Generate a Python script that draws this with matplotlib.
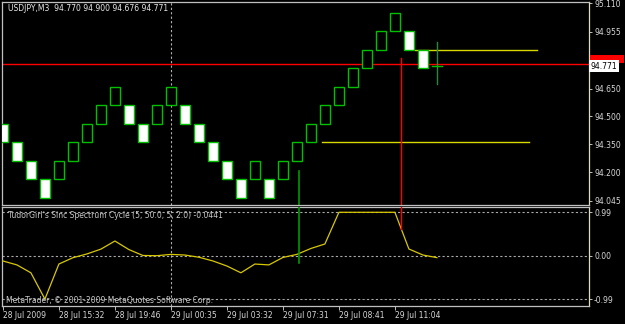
import matplotlib
matplotlib.use('Agg')
import matplotlib.pyplot as plt
from matplotlib.patches import Rectangle

# renko bricks: bottom price of each brick and direction (1 = up / hollow, 0 = down / white)
brick_low = [94.36, 94.26, 94.16, 94.06, 94.16, 94.26, 94.36, 94.46, 94.56, 94.46,
             94.36, 94.46, 94.56, 94.46, 94.36, 94.26, 94.16, 94.06, 94.16, 94.06,
             94.16, 94.26, 94.36, 94.46, 94.56, 94.66, 94.76, 94.86, 94.96, 94.86, 94.76]
brick_up = [0, 0, 0, 0, 1, 1, 1, 1, 1, 0,
            0, 1, 1, 0, 0, 0, 0, 0, 1, 0,
            1, 1, 1, 1, 1, 1, 1, 1, 1, 0, 0]
BRICK = 0.10

# last (forming) bar
last_ohlc = (94.770, 94.900, 94.676, 94.771)

# indicator values, one per bar
sinc = [-0.12, -0.21, -0.39, -0.99, -0.19, -0.046, 0.04, 0.15, 0.335, 0.14,
        0.005, 0.0, 0.03, 0.015, -0.035, -0.12, -0.235, -0.39, -0.19, -0.21,
        -0.04, 0.03, 0.165, 0.267, 0.99, 0.99, 0.99, 0.99, 0.99, 0.153, 0.016, -0.0441]

price_ticks = [94.045, 94.200, 94.350, 94.500, 94.650, 94.955, 95.110]
ind_ticks = [0.99, 0.0, -0.99]
ind_tick_labels = ['0.99', '0.00', '-0.99']

time_pos = [0, 4, 8, 12, 16, 20, 24, 28]
time_labels = ['28 Jul 2009', '28 Jul 15:32', '28 Jul 19:46', '29 Jul 00:35',
               '29 Jul 03:32', '29 Jul 07:31', '29 Jul 08:41', '29 Jul 11:04']
day_sep = 12

# drawn objects
red_hline = 94.78
yellow_lines = [(29.44, 38.13, 94.86), (22.79, 37.58, 94.36)]
red_vline = (28.46, 94.815, 0.61)
green_vline = (21.13, 94.207, -0.167)

W, H = 625, 324
BG = '#000000'
FRAME = '#c0c0c0'
TXT = '#d8d8d8'
GREEN = '#00c000'
FONT = 'DejaVu Sans'
FS = 5.5

fig = plt.figure(figsize=(W / 100, H / 100), dpi=100, facecolor=BG)


def px_axes(x0, y0, x1, y1):
    return fig.add_axes([x0 / W, 1 - y1 / H, (x1 - x0) / W, (y1 - y0) / H])


def style(ax):
    ax.set_facecolor(BG)
    for s in ax.spines.values():
        s.set_color(FRAME)
        s.set_linewidth(0.9)
    ax.spines['right'].set_color('#e0dcc4')
    ax.yaxis.tick_right()
    ax.tick_params(axis='y', colors=FRAME, labelcolor=TXT, labelsize=FS, length=2.5, width=0.7, pad=1.5)
    ax.tick_params(axis='x', colors=FRAME, labelcolor=TXT, labelsize=FS, length=3, width=0.7, pad=0.8)
    for lab in ax.get_yticklabels() + ax.get_xticklabels():
        lab.set_family(FONT)


xlim = ((2 - 2.9) / 14, (588.5 - 2.9) / 14)

# ---------------- main price panel ----------------
ax = px_axes(2, 1.5, 588.5, 204.5)
ax.set_xlim(xlim)
ax.set_ylim(94.06 - 6.5 / 185.5, 94.06 + 196.5 / 185.5)

for i, (lo, up) in enumerate(zip(brick_low, brick_up)):
    fc = BG if up else 'white'
    ax.add_patch(Rectangle((i - 0.33, lo), 0.66, BRICK, facecolor=fc,
                           edgecolor=GREEN, linewidth=1.0, zorder=3))

n = len(brick_low)
o, h, l, c = last_ohlc
ax.plot([n, n], [l, h], color='#1e8c46', lw=1.0, zorder=3)
ax.plot([n - 0.35, n], [o, o], color=GREEN, lw=1.0, zorder=3)
ax.plot([n, n + 0.35], [c, c], color=GREEN, lw=1.0, zorder=3)

ax.axhline(red_hline, color='#ff0000', lw=1.0, zorder=2)
for x0, x1, y in yellow_lines:
    ax.plot([x0, x1], [y, y], color='#d8d800', lw=1.0, zorder=2)
ax.plot([red_vline[0]] * 2, [red_vline[1], ax.get_ylim()[0]], color='#ff0000', lw=1.0, zorder=2)
ax.plot([green_vline[0]] * 2, [green_vline[1], ax.get_ylim()[0]], color='#009a00', lw=1.2, zorder=2)
ax.axvline(day_sep, color='#b0b0b0', lw=0.8, ls=(0, (2, 2)), zorder=1)

ax.set_yticks(price_ticks)
ax.set_yticklabels([f'{t:.3f}' for t in price_ticks])
ax.set_xticks([])
style(ax)

ax.text(0.0105, 0.967, 'USDJPY,M3  94.770 94.900 94.676 94.771', transform=ax.transAxes,
        color='#e8e8e8', fontsize=FS, family=FONT, va='center', ha='left')

# price label boxes on the right axis (red box partly hidden behind the white one)
ax.add_patch(Rectangle((1.002, 94.79), 0.058, 0.04, transform=ax.get_yaxis_transform(),
                       facecolor='#ff0000', edgecolor='none', clip_on=False, zorder=5))
ax.text(1.004, 94.771, '94.771', transform=ax.get_yaxis_transform(), color='black',
        fontsize=FS, family=FONT, va='center', ha='left', clip_on=False, zorder=6,
        bbox=dict(boxstyle='square,pad=0.2', fc='white', ec='none'))

# ---------------- indicator panel ----------------
ax2 = px_axes(2, 206.5, 588.5, 306)
ax2.set_xlim(xlim)
ax2.set_ylim(-(306 - 255.7) / 43.84, (255.7 - 206.5) / 43.84)

ax2.plot(range(len(sinc)), sinc, color='#d8c800', lw=0.9, zorder=3)
for t in ind_ticks:
    ax2.axhline(t, color='#a8a8a8', lw=0.8, ls=(0, (2, 2)), zorder=1)
ax2.axvline(day_sep, color='#b0b0b0', lw=0.8, ls=(0, (2, 2)), zorder=1)
ax2.plot([red_vline[0]] * 2, [ax2.get_ylim()[1], red_vline[2]], color='#ff0000', lw=1.0, zorder=4)
ax2.plot([green_vline[0]] * 2, [ax2.get_ylim()[1], green_vline[2]], color='#009a00', lw=1.2, zorder=4)

ax2.set_yticks(ind_ticks)
ax2.set_yticklabels(ind_tick_labels)
ax2.set_xticks(time_pos)
ax2.set_xticklabels(time_labels, ha='left')
style(ax2)

ax2.text(0.0105, 0.91, "TudorGirl's Sinc Spectrum Cycle (5, 50.0, 5, 2.0) -0.0441",
         transform=ax2.transAxes, color='#c8c8c8', fontsize=FS, family=FONT, va='center', ha='left')
ax2.text(0.007, 0.055, 'MetaTrader, © 2001-2009 MetaQuotes Software Corp.',
         transform=ax2.transAxes, color='#c8c8c8', fontsize=FS, family=FONT, va='center', ha='left')

fig.savefig('out.png', dpi=100, facecolor=BG)
